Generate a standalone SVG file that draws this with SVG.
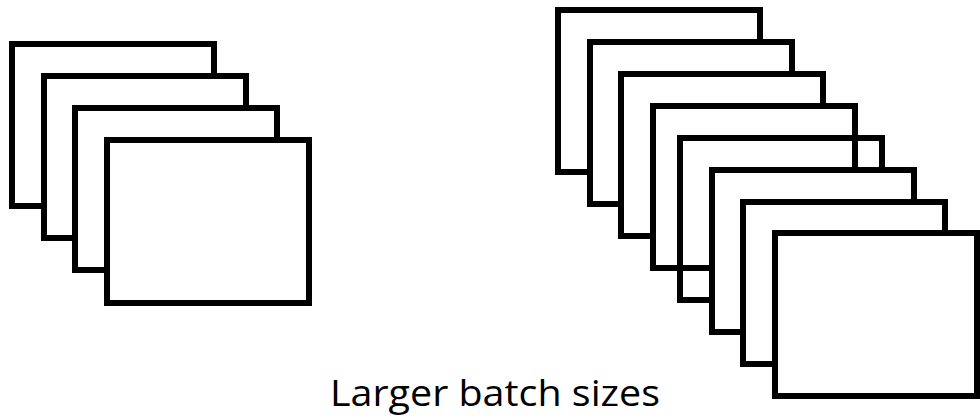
<svg xmlns="http://www.w3.org/2000/svg" width="980" height="420" viewBox="0 0 980 420">
  <style>
    .frame { fill: #ffffff; stroke: #000000; stroke-width: 6; }
    .open { fill: none; stroke: #000000; stroke-width: 6; }
    .caption { font-family: "Open Sans", "Noto Sans", sans-serif; font-size: 37px; fill: #000000; }
  </style>
  <rect width="980" height="420" fill="#ffffff"/>

  <!-- small batch: 4 stacked frames -->
  <g id="small-batch">
    <rect class="frame" x="12" y="44" width="202" height="162"/>
    <rect class="frame" x="44" y="76" width="202" height="162"/>
    <rect class="frame" x="75" y="108" width="202" height="162"/>
    <rect class="frame" x="107" y="140" width="202" height="163"/>
  </g>

  <!-- large batch: 8 stacked frames -->
  <g id="large-batch">
    <rect class="frame" x="558" y="10" width="202" height="162"/>
    <rect class="frame" x="590" y="42" width="202" height="162"/>
    <rect class="frame" x="621" y="74" width="202" height="162"/>
    <rect class="frame" x="653" y="106" width="202" height="162"/>
    <rect class="open" x="680" y="138" width="202" height="162"/>
    <rect class="frame" x="712" y="170" width="202" height="162"/>
    <rect class="frame" x="743" y="202" width="202" height="162"/>
    <rect class="frame" x="775" y="233" width="202" height="163"/>
  </g>

  <text class="caption" x="330" y="406" textLength="330" lengthAdjust="spacingAndGlyphs">Larger batch sizes</text>
</svg>
